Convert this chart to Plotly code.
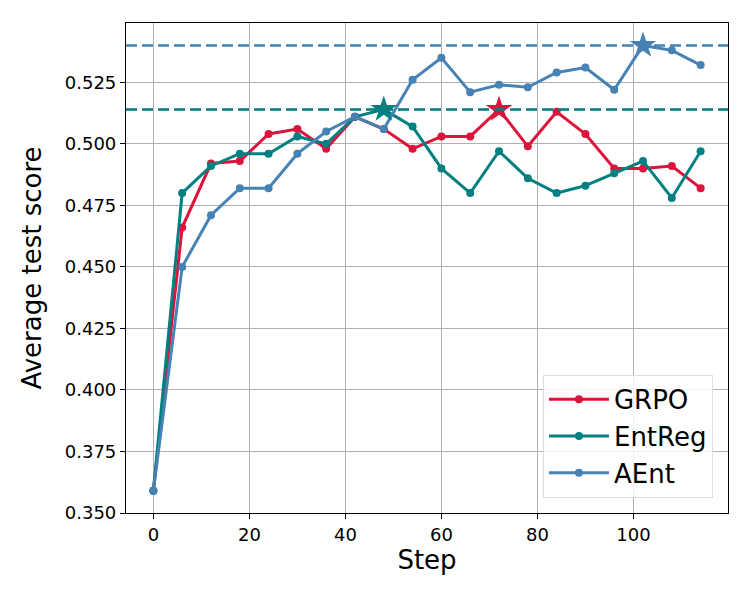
import plotly.graph_objects as go

steps = [0, 6, 12, 18, 24, 30, 36, 42, 48, 54, 60, 66, 72, 78, 84, 90, 96, 102, 108, 114]
grpo = [0.359, 0.466, 0.492, 0.493, 0.504, 0.506, 0.498, 0.511, 0.506, 0.498, 0.503, 0.503,
        0.514, 0.499, 0.513, 0.504, 0.490, 0.490, 0.491, 0.482]
entreg = [0.359, 0.480, 0.491, 0.496, 0.496, 0.503, 0.500, 0.511, 0.514, 0.507, 0.490, 0.480,
          0.497, 0.486, 0.480, 0.483, 0.488, 0.493, 0.478, 0.497]
aent = [0.359, 0.450, 0.471, 0.482, 0.482, 0.496, 0.505, 0.511, 0.506, 0.526, 0.535, 0.521,
        0.524, 0.523, 0.529, 0.531, 0.522, 0.540, 0.538, 0.532]

names = ["GRPO", "EntReg", "AEnt"]
colors = ["#DC143C", "#008080", "#4682B4"]
series = [grpo, entreg, aent]

FONT = "DejaVu Sans"
fig = go.Figure()

# dashed lines at best values (GRPO's is covered by EntReg's, same value)
for ys, c, w in zip(series, colors, [1.5, 2.5, 2.5]):
    fig.add_hline(y=max(ys), line=dict(color=c, width=w, dash="11px,5px"), layer="above")

for name, ys, c in zip(names, series, colors):
    fig.add_trace(go.Scatter(
        x=steps, y=ys, name=name, mode="lines+markers",
        line=dict(color=c, width=3),
        marker=dict(color=c, size=8),
    ))

for name, ys, c in zip(names, series, colors):
    i = ys.index(max(ys))
    fig.add_trace(go.Scatter(
        x=[steps[i]], y=[ys[i]], mode="markers", showlegend=False,
        marker=dict(symbol="star", color=c, size=20, line=dict(width=0)),
    ))

axis_common = dict(
    showline=True, linecolor="black", linewidth=1.2, mirror=True,
    showgrid=True, gridcolor="#b0b0b0", gridwidth=1,
    ticks="outside", ticklen=5, tickcolor="black", tickwidth=1,
    tickfont=dict(family=FONT, size=18, color="black"),
    zeroline=False, automargin=False,
)

fig.update_xaxes(
    range=[-5.7, 119.7], tickmode="array", tickvals=[0, 20, 40, 60, 80, 100],
    title=dict(text="Step", font=dict(family=FONT, size=26, color="black"), standoff=6),
    **axis_common,
)
fig.update_yaxes(
    range=[0.350, 0.5491], tickmode="array",
    tickvals=[0.350, 0.375, 0.400, 0.425, 0.450, 0.475, 0.500, 0.525],
    tickformat=".3f",
    title=dict(text="Average test score", font=dict(family=FONT, size=26, color="black"), standoff=15),
    **axis_common,
)

fig.update_layout(
    width=750, height=600,
    margin=dict(l=126, r=22, t=23, b=87),
    plot_bgcolor="white", paper_bgcolor="white",
    font=dict(family=FONT, color="black"),
    legend=dict(
        x=0.975, y=0.031, xanchor="right", yanchor="bottom",
        font=dict(family=FONT, size=26, color="black"),
        itemwidth=60,
        bgcolor="rgba(255,255,255,0.8)", bordercolor="#dddddd", borderwidth=1,
    ),
)

fig.write_html("out.html", config={"displayModeBar": False},
               post_script="document.body.style.margin='0';")
